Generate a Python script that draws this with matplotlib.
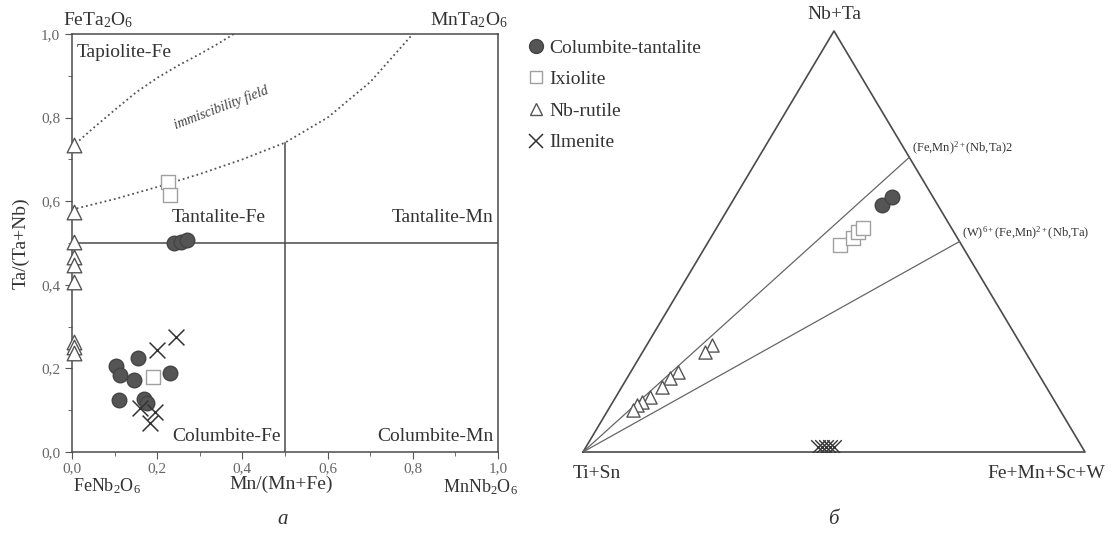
import numpy as np
import matplotlib.pyplot as plt
from matplotlib.lines import Line2D
from matplotlib.ticker import MultipleLocator, FuncFormatter

plt.rcParams['font.family'] = ['Liberation Serif', 'DejaVu Serif']
plt.rcParams['mathtext.fontset'] = 'custom'
plt.rcParams['mathtext.rm'] = 'Liberation Serif'
plt.rcParams['mathtext.it'] = 'Liberation Serif:italic'

# --- panel a: Mn/(Mn+Fe) vs Ta/(Ta+Nb) ---
col_x = [0.24, 0.255, 0.27, 0.103, 0.113, 0.155, 0.146, 0.23, 0.11, 0.169, 0.175]
col_y = [0.50, 0.502, 0.507, 0.206, 0.184, 0.225, 0.172, 0.189, 0.124, 0.127, 0.118]
ixi_x = [0.225, 0.23, 0.19]
ixi_y = [0.646, 0.615, 0.18]
rut_x = [0.005] * 9
rut_y = [0.735, 0.575, 0.503, 0.466, 0.447, 0.407, 0.264, 0.252, 0.236]
ilm_x = [0.244, 0.20, 0.16, 0.195, 0.183]
ilm_y = [0.275, 0.244, 0.105, 0.096, 0.069]

# miscibility gap boundaries (dotted)
upper_x = [0.0, 0.05, 0.1, 0.15, 0.2, 0.25, 0.3, 0.34, 0.38]
upper_y = [0.73, 0.775, 0.818, 0.86, 0.895, 0.925, 0.952, 0.975, 1.0]
lower_x = [0.0, 0.1, 0.2, 0.3, 0.4, 0.5, 0.6, 0.7, 0.8]
lower_y = [0.58, 0.605, 0.634, 0.665, 0.70, 0.74, 0.80, 0.885, 1.0]

# --- panel b: ternary (T = Nb+Ta, R = Fe+Mn+Sc+W) ---
t_col_T = [0.587, 0.606]
t_col_R = [0.302, 0.313]
t_ixi_T = [0.492, 0.508, 0.523, 0.533]
t_ixi_R = [0.266, 0.284, 0.286, 0.292]
t_rut_T = [0.254, 0.2375, 0.190, 0.176, 0.154, 0.131, 0.119, 0.112, 0.100]
t_rut_R = [0.130, 0.124, 0.094, 0.085, 0.080, 0.068, 0.058, 0.052, 0.050]
t_ilm_T = [0.012, 0.012, 0.012, 0.012, 0.012]
t_ilm_R = [0.462, 0.470, 0.478, 0.486, 0.494]
ref_T = [0.70, 0.50]
ref_labels = [r'(Fe,Mn)$^{2+}$(Nb,Ta)2', r'(W)$^{6+}$(Fe,Mn)$^{2+}$(Nb,Ta)']

txt = '#333333'
dark = '#4a4a4a'

fig = plt.figure(figsize=(11.12, 5.45), dpi=100)

ax = fig.add_axes([72 / 1112, 93 / 545, 426 / 1112, 418 / 545])
ax.set_xlim(0, 1)
ax.set_ylim(0, 1)
ax.plot(upper_x, upper_y, ls=':', color='#555555', lw=1.3)
ax.plot(lower_x, lower_y, ls=':', color='#555555', lw=1.3)
ax.plot([0.5, 0.5], [0, 0.74], color=dark, lw=1.1)
ax.axhline(0.5, color=dark, lw=1.1)

ax.scatter(col_x, col_y, s=110, c='#555555', edgecolors='#444444', zorder=3)
ax.scatter(ixi_x, ixi_y, s=90, marker='s', facecolors='white', edgecolors='#a0a0a0', linewidths=1.0, zorder=3)
ax.scatter(rut_x, rut_y, s=110, marker='^', facecolors='white', edgecolors='#555555', linewidths=1.0, zorder=3, clip_on=False)
ax.scatter(ilm_x, ilm_y, s=130, marker='x', c='#333333', linewidths=1.1, zorder=3)

ax.text(0.012, 0.955, 'Tapiolite-Fe', fontsize=14, color=txt, va='center')
ax.text(0.235, 0.56, 'Tantalite-Fe', fontsize=14, color=txt, va='center')
ax.text(0.99, 0.56, 'Tantalite-Mn', fontsize=14, color=txt, va='center', ha='right')
ax.text(0.49, 0.036, 'Columbite-Fe', fontsize=14, color=txt, va='center', ha='right')
ax.text(0.99, 0.036, 'Columbite-Mn', fontsize=14, color=txt, va='center', ha='right')
ax.text(0.35, 0.823, 'immiscibility field', fontsize=10, style='italic', color='#444444',
        rotation=21, ha='center', va='center')

ax.xaxis.set_major_locator(MultipleLocator(0.2))
ax.xaxis.set_minor_locator(MultipleLocator(0.1))
ax.yaxis.set_major_locator(MultipleLocator(0.2))
ax.yaxis.set_minor_locator(MultipleLocator(0.1))
fmt = FuncFormatter(lambda v, p: f'{v:.1f}'.replace('.', ','))
ax.xaxis.set_major_formatter(fmt)
ax.yaxis.set_major_formatter(fmt)
ax.tick_params(which='both', direction='out', colors='#555555', labelsize=11, labelcolor='#666666')
ax.tick_params(which='major', length=5)
ax.tick_params(which='minor', length=3)
ax.tick_params(axis='x', pad=2)
for sp in ax.spines.values():
    sp.set_color(dark)
    sp.set_linewidth(1.1)
ax.set_xlabel('Mn/(Mn+Fe)', fontsize=14, color=txt)
ax.xaxis.set_label_coords(0.49, -0.056)
ax.set_ylabel('Ta/(Ta+Nb)', fontsize=14, color=txt, labelpad=8)

fig.text(63 / 1112, 1 - 20 / 545, r'FeTa$_2$O$_6$', fontsize=14, color=txt, va='center')
fig.text(430 / 1112, 1 - 20 / 545, r'MnTa$_2$O$_6$', fontsize=14, color=txt, va='center')
fig.text(73 / 1112, 1 - 486 / 545, r'FeNb$_2$O$_6$', fontsize=13, color=txt, va='center')
fig.text(443 / 1112, 1 - 487 / 545, r'MnNb$_2$O$_6$', fontsize=13, color=txt, va='center')

# ternary panel
tx = fig.add_axes([583 / 1112, 93 / 545, 502 / 1112, 421 / 545])
tx.set_xlim(0, 1)
tx.set_ylim(0, 1)
tx.axis('off')


def tern(T, R):
    T = np.asarray(T, dtype=float)
    R = np.asarray(R, dtype=float)
    return R + T / 2, T


tx.plot([0, 1, 0.5, 0], [0, 0, 1, 0], color=dark, lw=1.2, clip_on=False)
for T, lab in zip(ref_T, ref_labels):
    xe, ye = tern(T, 1 - T)
    tx.plot([0, xe], [0, ye], color='#666666', lw=0.9)
    tx.text(xe + 0.005, ye, lab, fontsize=9, color=txt, va='bottom', ha='left')

x, y = tern(t_col_T, t_col_R)
tx.scatter(x, y, s=110, c='#555555', edgecolors='#444444', zorder=3)
x, y = tern(t_ixi_T, t_ixi_R)
tx.scatter(x, y, s=90, marker='s', facecolors='white', edgecolors='#a0a0a0', linewidths=1.0, zorder=3)
x, y = tern(t_rut_T, t_rut_R)
tx.scatter(x, y, s=90, marker='^', facecolors='white', edgecolors='#555555', linewidths=1.0, zorder=3)
x, y = tern(t_ilm_T, t_ilm_R)
tx.scatter(x, y, s=110, marker='x', c='#333333', linewidths=1.0, zorder=3)

tx.text(0.5, 1.02, 'Nb+Ta', fontsize=14, color=txt, ha='center', va='bottom')
tx.text(-0.02, -0.03, 'Ti+Sn', fontsize=14, color=txt, ha='left', va='top')
tx.text(1.04, -0.03, 'Fe+Mn+Sc+W', fontsize=14, color=txt, ha='right', va='top')

handles = [
    Line2D([], [], ls='', marker='o', ms=10, mfc='#555555', mec='#444444'),
    Line2D([], [], ls='', marker='s', ms=8, mfc='white', mec='#a0a0a0'),
    Line2D([], [], ls='', marker='^', ms=9, mfc='white', mec='#555555'),
    Line2D([], [], ls='', marker='x', ms=10, mec='#333333', mew=1.1),
]
labels = ['Columbite-tantalite', 'Ixiolite', 'Nb-rutile', 'Ilmenite']
fig.legend(handles, labels, loc='upper left', bbox_to_anchor=(528 / 1112, 1 - 39 / 545),
           frameon=False, fontsize=14, handlelength=0.8, handletextpad=0.3,
           labelspacing=0.72, borderaxespad=0, borderpad=0, labelcolor=txt)

fig.text(283 / 1112, 1 - 520 / 545, 'а', fontsize=15, style='italic', color=txt, ha='center', va='center')
fig.text(833 / 1112, 1 - 520 / 545, 'б', fontsize=15, style='italic', color=txt, ha='center', va='center')

fig.savefig('out.png', dpi=100)
